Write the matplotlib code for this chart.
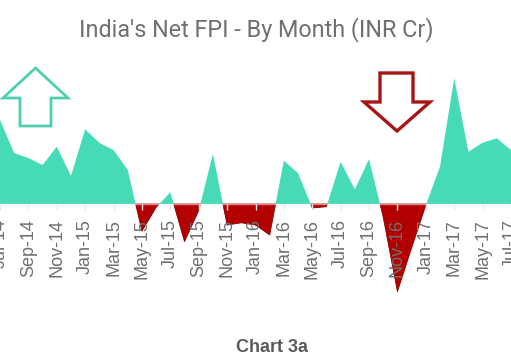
import numpy as np
import matplotlib
matplotlib.use("Agg")
import matplotlib.pyplot as plt
from matplotlib.patches import Polygon

months = ["Jul-14", "Aug-14", "Sep-14", "Oct-14", "Nov-14", "Dec-14",
          "Jan-15", "Feb-15", "Mar-15", "Apr-15", "May-15", "Jun-15",
          "Jul-15", "Aug-15", "Sep-15", "Oct-15", "Nov-15", "Dec-15",
          "Jan-16", "Feb-16", "Mar-16", "Apr-16", "May-16", "Jun-16",
          "Jul-16", "Aug-16", "Sep-16", "Oct-16", "Nov-16", "Dec-16",
          "Jan-17", "Feb-17", "Mar-17", "Apr-17", "May-17", "Jun-17",
          "Jul-17"]
net_fpi = [38000, 23000, 20800, 17600, 25900, 12700,
           33800, 27600, 24400, 15400, -12300, -1500,
           5300, -17000, -3000, 22600, -9500, -8500,
           -9500, -14000, 19600, 13900, -1800, -1200,
           19100, 6600, 20300, -6000, -39600, -19800,
           -500, 16900, 56800, 23600, 27700, 29700,
           24400]

TEAL = "#46dab6"
RED = "#b20000"

W, H = 511, 364
fig = plt.figure(figsize=(W / 100, H / 100), dpi=100)

# axes: pixel rows 60..300 from top, full width
ax = fig.add_axes([0, (H - 300) / H, 1, 240 / H])
x = np.arange(len(months))
y = np.array(net_fpi, dtype=float)

ax.fill_between(x, y, 0, where=y >= 0, interpolate=True, color=TEAL, lw=0, zorder=1)
ax.fill_between(x, y, 0, where=y <= 0, interpolate=True, facecolor=RED,
                edgecolor="#8a0000", lw=0.6, zorder=1.2)

cr_per_px = 452
ax.set_ylim(-(300 - 204) * cr_per_px, (204 - 60) * cr_per_px)
ax.set_xlim((0 + 6.8) / 14.41, (511 + 6.8) / 14.41)

for s in ["top", "left", "right"]:
    ax.spines[s].set_visible(False)
ax.spines["bottom"].set_position(("data", 0))
ax.spines["bottom"].set_color((1, 1, 1, 0.55))
ax.spines["bottom"].set_linewidth(1.0)
ax.spines["bottom"].set_zorder(3)
ax.set_yticks([])
ax.set_xticks(x[::2])
ax.set_xticklabels(months[::2], rotation=90, fontsize=13, color="#6f6f6f",
                   family="Liberation Sans")
ax.tick_params(axis="x", length=4, width=1, color="#e6e6e6", pad=7)
ax.patch.set_alpha(0)

fig.text(256 / W, 1 - 30 / H, "India's Net FPI - By Month (INR Cr)", ha="center",
         va="center", fontsize=16.8, color="#707070", family="Roboto")
fig.text(272 / W, 1 - 348 / H, "Chart 3a", ha="center", va="center",
         fontsize=13, color="#5a5a5a", family="Liberation Sans", weight="bold")

def px(pts):
    return [(px_ / W, 1 - py_ / H) for px_, py_ in pts]

up = [(35.5, 68), (68, 98), (51, 98), (51, 126), (20, 126), (20, 98), (3, 98)]
down = [(380, 73), (413, 73), (413, 102), (430, 102), (397, 131), (364, 102), (380, 102)]
fig.patches.append(Polygon(px(up), closed=True, fill=False, edgecolor="#4fcfb0",
                           lw=2.0, transform=fig.transFigure, joinstyle="miter"))
fig.patches.append(Polygon(px(down), closed=True, fill=False, edgecolor="#a51515",
                           lw=2.4, transform=fig.transFigure, joinstyle="miter"))

fig.savefig("out.png", dpi=100, facecolor="white")
